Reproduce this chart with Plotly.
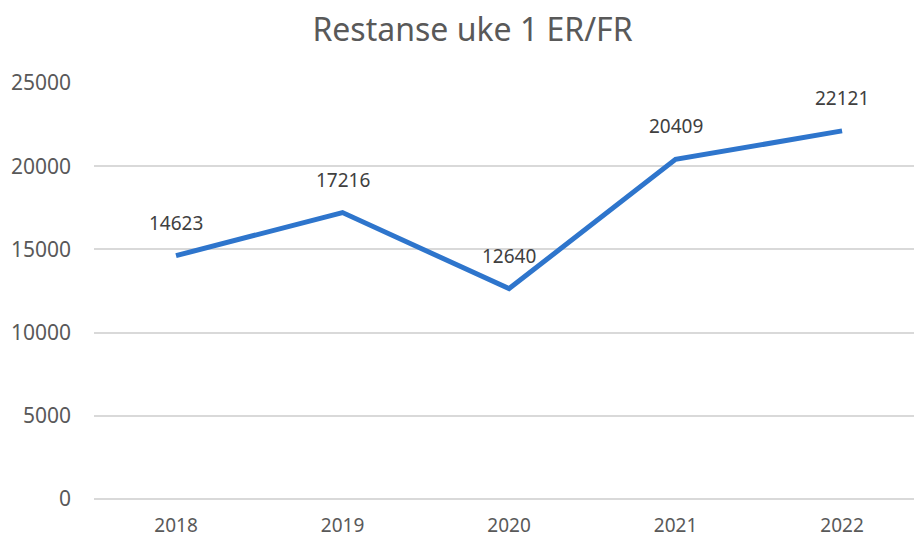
import plotly.graph_objects as go

years = ["2018", "2019", "2020", "2021", "2022"]
values = [14623, 17216, 12640, 20409, 22121]
y_ticks = [0, 5000, 10000, 15000, 20000, 25000]

text_color = "#595959"
font_family = "Noto Sans, Open Sans, sans-serif"

fig = go.Figure()
fig.add_trace(go.Scatter(
    x=years, y=values, mode="lines",
    line=dict(color="#2E75CC", width=5),
    hoverinfo="x+y", cliponaxis=False,
))

for i, v in enumerate(values):
    fig.add_annotation(x=i, y=v, text=str(v), showarrow=False,
                       yshift=33, font=dict(size=19, color="#404040", family=font_family))

fig.update_layout(
    width=914, height=538,
    margin=dict(l=94, r=0, t=83, b=39, autoexpand=False),
    paper_bgcolor="white", plot_bgcolor="white",
    title=dict(text="Restanse uke 1 ER/FR", x=0.517, xanchor="center", y=0.945, yanchor="middle",
               font=dict(size=32, color=text_color, family=font_family)),
    showlegend=False,
    xaxis=dict(type="category", range=[-0.4925, 4.432], showgrid=False, zeroline=False,
               showline=False, ticks="", ticklabelstandoff=13, automargin=False,
               tickfont=dict(size=19, color=text_color, family=font_family)),
    yaxis=dict(range=[0, 25000], tickvals=y_ticks, ticktext=[str(t) for t in y_ticks],
               showgrid=True, gridcolor="#D9D9D9", gridwidth=1.5,
               zeroline=True, zerolinecolor="#D9D9D9", zerolinewidth=1.5,
               showline=False, ticks="", ticklabelstandoff=22, automargin=False,
               tickfont=dict(size=21, color=text_color, family=font_family)),
)

fig.write_html("out.html", config={"displayModeBar": False},
               post_script="document.body.style.margin='0';document.body.style.overflow='hidden';")
